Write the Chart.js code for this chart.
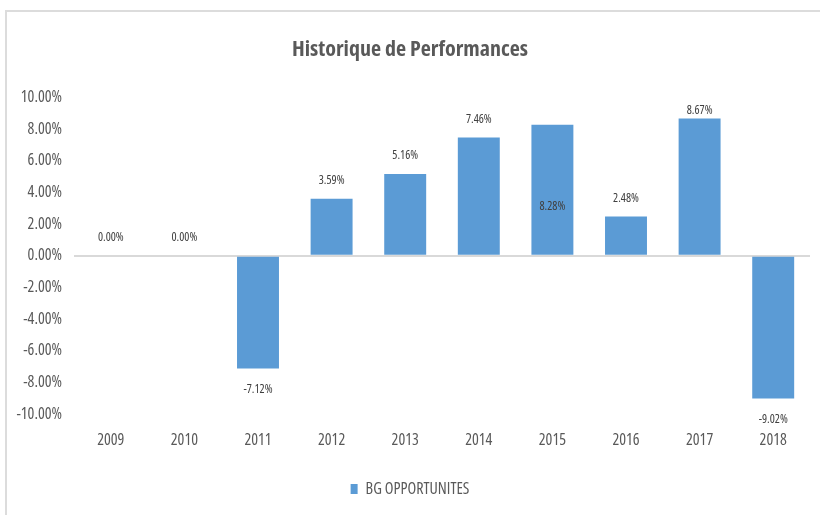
<!DOCTYPE html>
<html>
<head>
<meta charset="utf-8">
<script src="https://cdn.jsdelivr.net/npm/chart.js@4"></script>
<style>
	html, body { margin: 0; padding: 0; background: #fff; }
	#wrap { position: absolute; left: 0; top: 0; width: 820px; height: 515px; overflow: hidden; }
	#frame { position: absolute; left: 5px; top: 10px; width: 830px; height: 520px;
		border-top: 2px solid #dcdcdc; border-left: 2px solid #dcdcdc; }
	canvas { position: absolute; left: 0; top: 0; }
</style>
</head>
<body>
<div id="wrap">
	<div id="frame"></div>
	<canvas id="chart" width="820" height="515"></canvas>
</div>
<script>
const years = ['2009', '2010', '2011', '2012', '2013', '2014', '2015', '2016', '2017', '2018'];
const perf = [0.00, 0.00, -7.12, 3.59, 5.16, 7.46, 8.28, 2.48, 8.67, -9.02];
const seriesName = 'BG OPPORTUNITES';
const yTicks = [-10, -8, -6, -4, -2, 0, 2, 4, 6, 8, 10];
// Excel put this one label inside its bar
const insideLabels = ['2015'];

// condensed Open Sans stands in for Calibri
const FONT = '"Open Sans", sans-serif';
const TXT = '#595959';
const BLUE = '#5b9bd5';

const valueLabels = {
	id: 'valueLabels',
	afterDatasetsDraw(chart) {
		const ctx = chart.ctx;
		const meta = chart.getDatasetMeta(0);
		const area = chart.chartArea;
		ctx.save();
		ctx.font = 'normal condensed 12px ' + FONT;
		ctx.fillStyle = '#404040';
		ctx.textAlign = 'center';
		ctx.textBaseline = 'middle';
		meta.data.forEach((bar, i) => {
			const v = perf[i];
			const txt = v.toFixed(2) + '%';
			let y;
			if (insideLabels.includes(years[i])) {
				y = bar.y + (bar.base - bar.y) * 0.63;
			} else if (v >= 0) {
				y = Math.max(bar.y - 18, area.top + 13);
			} else {
				y = bar.y + 21;
			}
			ctx.fillText(txt, bar.x, y);
		});
		ctx.restore();
	}
};

const config = {
	type: 'bar',
	data: {
		labels: years,
		datasets: [
			{
				label: seriesName,
				data: perf,
				backgroundColor: BLUE,
				barPercentage: 0.57,
				categoryPercentage: 1,
			},
		],
	},
	options: {
		responsive: false,
		animation: false,
		layout: { padding: { left: 10, right: 10, top: 0, bottom: 8 } },
		plugins: {
			title: {
				display: true,
				text: 'Historique de Performances',
				color: TXT,
				font: { family: FONT, size: 22, weight: 'bold condensed' },
				padding: { top: 37, bottom: 34 },
			},
			legend: {
				position: 'bottom',
				labels: {
					color: TXT,
					font: { family: FONT, size: 16, weight: 'normal condensed' },
					boxWidth: 7,
					boxHeight: 10,
					padding: 10,
				},
			},
			tooltip: { enabled: false },
		},
		scales: {
			x: {
				grid: { display: false, drawTicks: false },
				border: { display: false },
				ticks: { color: TXT, font: { family: FONT, size: 16, weight: 'normal condensed' }, padding: 17 },
				afterFit(s) { s.height = 57; },
			},
			y: {
				min: -10,
				max: 10,
				afterBuildTicks(s) { s.ticks = yTicks.map(v => ({ value: v })); },
				grid: {
					drawTicks: false,
					lineWidth: 2,
					color: c => (c.tick && c.tick.value === 0 ? '#d9d9d9' : 'rgba(0,0,0,0)'),
				},
				border: { display: false },
				ticks: {
					color: TXT,
					font: { family: FONT, size: 16, weight: 'normal condensed' },
					padding: 12,
					callback: v => v.toFixed(2) + '%',
				},
				afterFit(s) { s.width = 64; },
			},
		},
	},
	plugins: [valueLabels],
};

new Chart(document.getElementById('chart'), config);
</script>
</body>
</html>
